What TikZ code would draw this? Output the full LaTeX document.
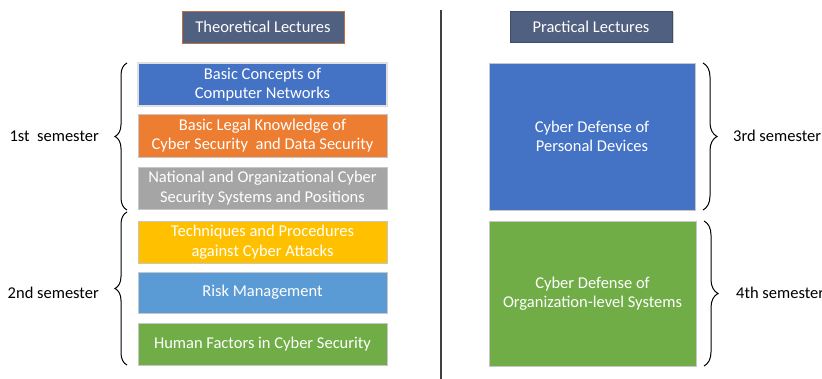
\documentclass[tikz,border=0pt]{standalone}
\usepackage{fontspec}
\setmainfont{Carlito}
\usetikzlibrary{decorations.pathreplacing,shadows}
\definecolor{hdr}{HTML}{4F6080}
\definecolor{hdrborder}{HTML}{C0703A}
\definecolor{cblue}{HTML}{4472C4}
\definecolor{corange}{HTML}{ED7D31}
\definecolor{cgray}{HTML}{A5A5A5}
\definecolor{cgold}{HTML}{FFC000}
\definecolor{clight}{HTML}{5B9BD5}
\definecolor{cgreen}{HTML}{70AD47}
\tikzset{
  box/.style={draw=black!22, line width=0.8pt, text=white, align=center, inner sep=0pt,
    font=\fontsize{16.5}{19.5}\selectfont},
  hdrbox/.style={box, fill=hdr},
  lbl/.style={font=\fontsize{16.5}{19.5}\selectfont, inner sep=0pt},
  brc/.style={decorate, decoration={brace, amplitude=12pt}, line width=1pt},
}
\begin{document}
\begin{tikzpicture}[x=1pt,y=-1pt]
\useasboundingbox (0,0) rectangle (822,379);
% headers
\node[hdrbox, draw=hdrborder, minimum width=162, minimum height=32] (th) at (263,27) {Theoretical Lectures};
\node[hdrbox, draw=hdr!80!black, drop shadow={opacity=0.35, shadow xshift=1.5pt, shadow yshift=-1.5pt}, minimum width=162, minimum height=31] (pr) at (591,26.5) {Practical Lectures};
% theoretical lectures
\node[box, fill=cblue, draw=black!12, line width=1.2pt, minimum width=249, minimum height=43] (b1) at (262.5,84.5) {Basic Concepts of\\Computer Networks};
\node[box, fill=corange, minimum width=249, minimum height=43] (b2) at (262.5,135.5) {Basic Legal Knowledge of\\Cyber Security\ \ and Data Security};
\node[box, fill=cgray, minimum width=249, minimum height=42] (b3) at (262.5,188) {National and Organizational Cyber\\Security Systems and Positions};
\node[box, fill=cgold, minimum width=249, minimum height=42] (b4) at (262.5,242) {Techniques and Procedures\\against Cyber Attacks};
\node[box, fill=clight, minimum width=249, minimum height=41] (b5) at (262.5,292.5) {Risk Management};
\node[box, fill=cgreen, minimum width=249, minimum height=42] (b6) at (262.5,344) {Human Factors in Cyber Security};
% practical lectures
\node[box, fill=cblue, minimum width=206, minimum height=147] (p1) at (592,136.5) {Cyber Defense of\\Personal Devices};
\node[box, fill=cgreen, minimum width=207, minimum height=145] (p2) at (592.5,293.5) {Cyber Defense of\\Organization-level Systems};
% divider
\coordinate (vtop) at (441,10);
\coordinate (vbot) at (441,379);
\draw[line width=1.1pt, black!75] (vtop) -- (vbot);
% braces left
\coordinate (l1b) at (127,210); \coordinate (l1t) at (127,63);
\coordinate (l2b) at (127,365); \coordinate (l2t) at (127,212);
\draw[brc] (l1b) -- (l1t);
\draw[brc] (l2b) -- (l2t);
\node[lbl, anchor=east] (s1) at (99,136) {1st\ \ semester};
\node[lbl, anchor=east] (s2) at (99,293) {2nd semester};
% braces right
\coordinate (r1t) at (703,63); \coordinate (r1b) at (703,210);
\coordinate (r2t) at (704,221); \coordinate (r2b) at (704,366);
\draw[brc, decoration={amplitude=14pt}] (r1t) -- (r1b);
\draw[brc, decoration={amplitude=14pt}] (r2t) -- (r2b);
\node[lbl, anchor=west] (s3) at (733,136) {3rd semester};
\node[lbl, anchor=west] (s4) at (736,293) {4th semester};
\end{tikzpicture}
\end{document}
